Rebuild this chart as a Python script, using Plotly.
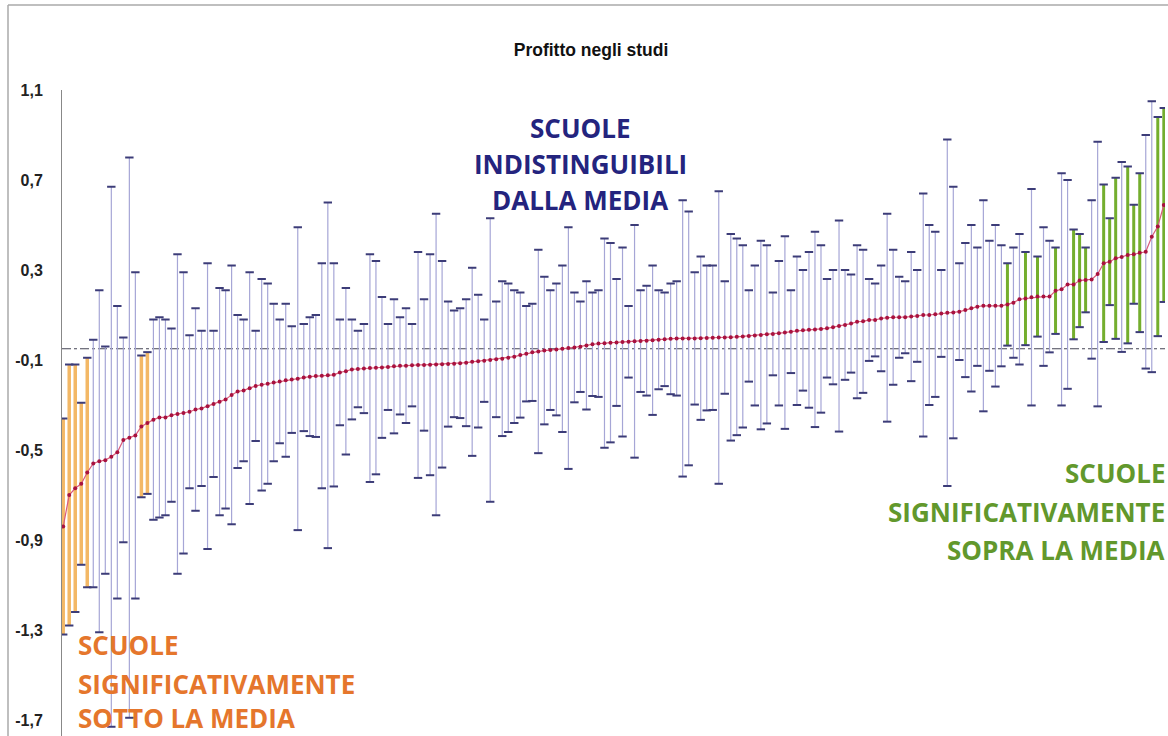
import plotly.graph_objects as go

# ---------------- data ----------------
titolo = "Profitto negli studi"
media = -0.05  # linea tratteggiata di riferimento

tick_vals = [1.1, 0.7, 0.3, -0.1, -0.5, -0.9, -1.3, -1.7]
tick_text = ["1,1", "0,7", "0,3", "-0,1", "-0,5", "-0,9", "-1,3", "-1,7"]

# stima (effetto scuola), ordinata
stima = [
    -0.84, -0.70, -0.67, -0.65, -0.60, -0.56, -0.55, -0.545, -0.53, -0.51,
    -0.455, -0.445, -0.435, -0.395, -0.38, -0.365, -0.355, -0.355, -0.345, -0.34,
    -0.335, -0.33, -0.32, -0.315, -0.305, -0.295, -0.285, -0.275, -0.255, -0.24,
    -0.235, -0.225, -0.215, -0.21, -0.205, -0.20, -0.195, -0.19, -0.187, -0.183,
    -0.178, -0.174, -0.171, -0.170, -0.168, -0.166, -0.155, -0.150, -0.142, -0.140,
    -0.138, -0.136, -0.134, -0.133, -0.131, -0.128, -0.126, -0.125, -0.123, -0.122,
    -0.122, -0.121, -0.120, -0.119, -0.118, -0.117, -0.114, -0.112, -0.108, -0.105,
    -0.103, -0.100, -0.097, -0.094, -0.090, -0.085, -0.078, -0.072, -0.066, -0.062,
    -0.058, -0.056, -0.053, -0.050, -0.047, -0.044, -0.041, -0.035, -0.030, -0.027,
    -0.025, -0.023, -0.022, -0.020, -0.019, -0.017, -0.016, -0.014, -0.012, -0.010,
    -0.008, -0.006, -0.004, -0.004, -0.004, -0.004, -0.003, -0.002, -0.001, 0.000,
    0.000, 0.001, 0.003, 0.005, 0.007, 0.009, 0.011, 0.014, 0.016, 0.019,
    0.022, 0.026, 0.030, 0.032, 0.034, 0.036, 0.038, 0.041, 0.046, 0.051,
    0.056, 0.062, 0.070, 0.072, 0.078, 0.078, 0.085, 0.088, 0.090, 0.090,
    0.090, 0.093, 0.096, 0.100, 0.100, 0.103, 0.107, 0.110, 0.111, 0.115,
    0.122, 0.130, 0.137, 0.141, 0.141, 0.141, 0.141, 0.147, 0.155, 0.170,
    0.173, 0.179, 0.182, 0.182, 0.182, 0.208, 0.214, 0.236, 0.236, 0.253,
    0.256, 0.258, 0.282, 0.330, 0.337, 0.352, 0.358, 0.367, 0.370, 0.377,
    0.381, 0.448, 0.493, 0.589,
]

# semiampiezza dell'intervallo di confidenza
margine = [
    0.48, 0.58, 0.55, 0.36, 0.51, 0.55, 0.76, 0.505, 1.20, 0.65,
    0.455, 1.245, 0.725, 0.315, 0.315, 0.445, 0.445, 0.435, 0.385, 0.71,
    0.625, 0.34, 0.45, 0.345, 0.635, 0.325, 0.505, 0.485, 0.575, 0.34,
    0.315, 0.515, 0.245, 0.47, 0.445, 0.35, 0.275, 0.34, 0.237, 0.673,
    0.238, 0.264, 0.271, 0.50, 0.768, 0.496, 0.235, 0.37, 0.222, 0.17,
    0.198, 0.506, 0.474, 0.313, 0.191, 0.298, 0.216, 0.255, 0.183, 0.502,
    0.292, 0.491, 0.67, 0.459, 0.278, 0.237, 0.244, 0.282, 0.418, 0.295,
    0.183, 0.63, 0.257, 0.344, 0.33, 0.295, 0.278, 0.212, 0.216, 0.452,
    0.328, 0.266, 0.293, 0.37, 0.537, 0.244, 0.201, 0.285, 0.23, 0.237,
    0.465, 0.443, 0.282, 0.42, 0.159, 0.517, 0.226, 0.244, 0.332, 0.22,
    0.208, 0.246, 0.254, 0.614, 0.564, 0.294, 0.363, 0.322, 0.321, 0.65,
    0.25, 0.459, 0.437, 0.405, 0.203, 0.311, 0.419, 0.396, 0.184, 0.321,
    0.428, 0.184, 0.33, 0.268, 0.346, 0.434, 0.372, 0.219, 0.254, 0.469,
    0.244, 0.218, 0.34, 0.318, 0.182, 0.162, 0.235, 0.462, 0.30, 0.18,
    0.16, 0.287, 0.204, 0.54, 0.40, 0.367, 0.193, 0.77, 0.559, 0.215,
    0.298, 0.37, 0.263, 0.469, 0.289, 0.359, 0.269, 0.183, 0.245, 0.29,
    0.207, 0.481, 0.178, 0.308, 0.248, 0.192, 0.516, 0.464, 0.244, 0.207,
    0.144, 0.352, 0.588, 0.35, 0.193, 0.358, 0.422, 0.393, 0.22, 0.353,
    0.519, 0.602, 0.487, 0.431,
]

etichette = {
    "media": ["SCUOLE", "INDISTINGUIBILI", "DALLA MEDIA"],
    "sotto": ["SCUOLE", "SIGNIFICATIVAMENTE", "SOTTO LA MEDIA"],
    "sopra": ["SCUOLE", "SIGNIFICATIVAMENTE", "SOPRA LA MEDIA"],
}

# ---------------- derived ----------------
scuole = list(range(1, len(stima) + 1))
sup = [s + m for s, m in zip(stima, margine)]
inf = [s - m for s, m in zip(stima, margine)]


def gruppo(i):
    if sup[i] < media:
        return "sotto"
    if inf[i] > media:
        return "sopra"
    return "media"


stili = {
    "media": dict(color="#A6A6D6", thickness=1.2),
    "sotto": dict(color="#F3B866", thickness=3.5),
    "sopra": dict(color="#74AE2E", thickness=3),
}

fig = go.Figure()

for g in ["media", "sotto", "sopra"]:
    idx = [i for i in range(len(stima)) if gruppo(i) == g]
    fig.add_trace(go.Scatter(
        x=[scuole[i] for i in idx],
        y=[stima[i] for i in idx],
        mode="markers",
        marker=dict(size=1, color="rgba(0,0,0,0)"),
        error_y=dict(type="data", array=[margine[i] for i in idx],
                     color=stili[g]["color"], thickness=stili[g]["thickness"], width=0),
        hoverinfo="skip", showlegend=False,
    ))

# cappucci (estremi degli intervalli)
fig.add_trace(go.Scatter(
    x=scuole + scuole,
    y=sup + inf,
    mode="markers",
    marker=dict(symbol="line-ew", size=6, line=dict(width=2, color="#3C3C78")),
    hoverinfo="skip", showlegend=False,
))

# stime
fig.add_trace(go.Scatter(
    x=scuole, y=stima,
    mode="lines+markers",
    line=dict(color="#DA5A7C", width=1.2),
    marker=dict(size=4, color="#A8123E"),
    hoverinfo="skip", showlegend=False,
))

W, H = 1168, 736
ML, MR, MT, MB = 62, 3, 90, 0
PW, PH = W - ML - MR, H - MT - MB


def px(xp):
    return (xp - ML) / PW


def py(yp):
    return (H - MB - yp) / PH


fig.add_shape(type="line", xref="paper", yref="y", x0=0, x1=1, y0=media, y1=media,
              line=dict(color="#444455", width=1, dash="dashdot"), layer="below")

# bordo dell'area del grafico
fig.add_shape(type="line", xref="paper", yref="paper", x0=px(8), x1=px(8), y0=py(H + 5), y1=py(5),
              line=dict(color="#AAAAAA", width=1.5))
fig.add_shape(type="line", xref="paper", yref="paper", x0=px(8), x1=px(W + 5), y0=py(5), y1=py(5),
              line=dict(color="#AAAAAA", width=1.5))

font_txt = "Open Sans"
fs = 26
ann = []
for testo, yy in zip(etichette["media"], [128, 164, 200]):
    ann.append(dict(text=testo, x=px(580), y=py(yy), xanchor="center", yanchor="middle",
                    font=dict(family=font_txt, size=fs, color="#24247E", weight="bold")))
for testo, yy in zip(etichette["sotto"], [645, 684, 718]):
    ann.append(dict(text=testo, x=px(76), y=py(yy), xanchor="left", yanchor="middle",
                    font=dict(family=font_txt, size=fs, color="#E5762C", weight="bold")))
for testo, yy in zip(etichette["sopra"], [473, 512, 550]):
    ann.append(dict(text=testo, x=px(1167), y=py(yy), xanchor="right", yanchor="middle",
                    font=dict(family=font_txt, size=fs, color="#62982C", weight="bold")))
for a in ann:
    a.update(xref="paper", yref="paper", showarrow=False)

fig.update_layout(
    width=W, height=H,
    margin=dict(l=ML, r=MR, t=MT, b=MB, pad=0),
    paper_bgcolor="white", plot_bgcolor="white",
    separators=",.",
    title=dict(text=titolo, x=px(591), xref="paper", xanchor="center",
               y=1 - 50 / H, yref="container", yanchor="middle",
               font=dict(family="Liberation Sans", size=17.5, color="#111111", weight="bold")),
    annotations=ann,
    xaxis=dict(visible=False, range=[0.8, len(stima) + 0.2]),
    yaxis=dict(range=[-1.771, 1.1], tickvals=tick_vals, ticktext=tick_text,
               showgrid=False, zeroline=False,
               showline=True, linecolor="#888888", linewidth=1,
               ticks="outside", ticklen=15, tickcolor="rgba(0,0,0,0)",
               tickfont=dict(family="Liberation Sans", size=16, color="#222222", weight="bold")),
)

fig.write_html(
    "out.html",
    config={"displayModeBar": False},
    post_script="document.body.style.margin='0';document.body.style.overflow='hidden';",
)
